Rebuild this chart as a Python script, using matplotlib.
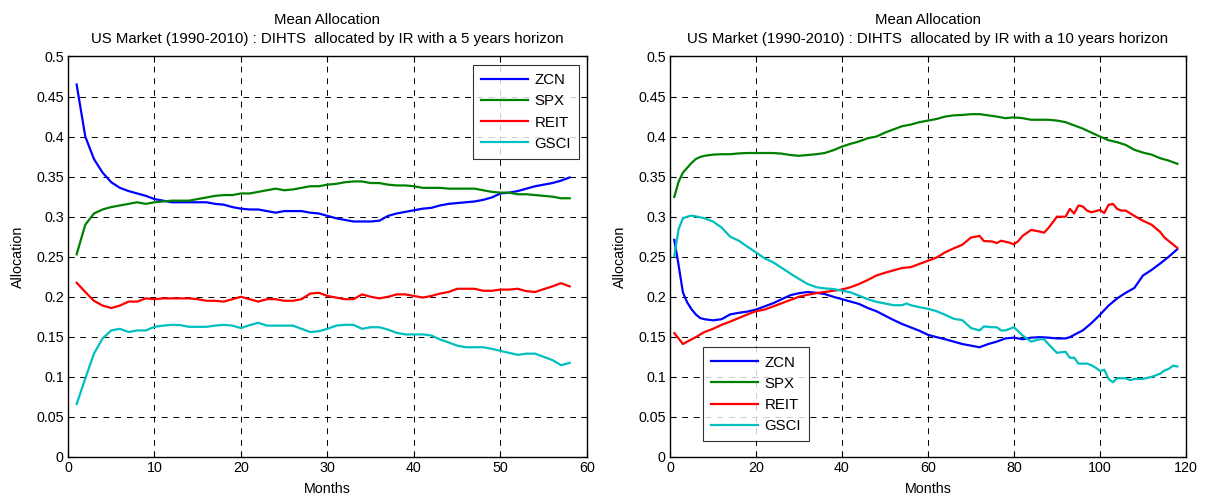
import numpy as np
import matplotlib
matplotlib.use("Agg")
from matplotlib import pyplot as plt

plt.rcParams['font.family'] = ['Liberation Sans', 'DejaVu Sans']
plt.rcParams['font.size'] = 10

# ---- 5 years horizon (left) ----
months5 = list(range(1, 59))
zcn5 = [0.465, 0.400, 0.372, 0.355, 0.343, 0.336, 0.332, 0.329, 0.326, 0.322,
        0.320, 0.318, 0.318, 0.318, 0.318, 0.318, 0.316, 0.315, 0.312, 0.310,
        0.309, 0.309, 0.307, 0.305, 0.307, 0.307, 0.307, 0.305, 0.304, 0.301,
        0.298, 0.296, 0.294, 0.294, 0.294, 0.295, 0.301, 0.304, 0.306, 0.308,
        0.310, 0.311, 0.314, 0.316, 0.317, 0.318, 0.319, 0.321, 0.324, 0.329,
        0.330, 0.332, 0.335, 0.338, 0.340, 0.342, 0.345, 0.349]
spx5 = [0.253, 0.290, 0.304, 0.309, 0.312, 0.314, 0.316, 0.318, 0.316, 0.318,
        0.319, 0.320, 0.320, 0.320, 0.322, 0.324, 0.326, 0.327, 0.327, 0.329,
        0.329, 0.331, 0.333, 0.335, 0.333, 0.334, 0.336, 0.338, 0.338, 0.340,
        0.341, 0.343, 0.344, 0.344, 0.342, 0.342, 0.340, 0.339, 0.339, 0.338,
        0.336, 0.336, 0.336, 0.335, 0.335, 0.335, 0.335, 0.333, 0.331, 0.330,
        0.330, 0.328, 0.328, 0.327, 0.326, 0.325, 0.323, 0.323]
reit5 = [0.2175, 0.206, 0.195, 0.189, 0.186, 0.189, 0.194, 0.194, 0.198, 0.197,
         0.198, 0.198, 0.198, 0.198, 0.197, 0.195, 0.195, 0.194, 0.197, 0.200,
         0.197, 0.194, 0.197, 0.197, 0.195, 0.195, 0.197, 0.204, 0.205, 0.201,
         0.199, 0.197, 0.197, 0.203, 0.200, 0.198, 0.200, 0.203, 0.203, 0.201,
         0.199, 0.201, 0.204, 0.206, 0.210, 0.210, 0.210, 0.2075, 0.2075, 0.209,
         0.209, 0.210, 0.207, 0.206, 0.2095, 0.213, 0.217, 0.213]
gsci5 = [0.066, 0.098, 0.129, 0.148, 0.158, 0.160, 0.156, 0.158, 0.158, 0.1625,
         0.164, 0.165, 0.1646, 0.1625, 0.1625, 0.1625, 0.164, 0.165, 0.164, 0.161,
         0.1646, 0.1675, 0.164, 0.164, 0.164, 0.164, 0.160, 0.156, 0.157, 0.160,
         0.164, 0.165, 0.165, 0.160, 0.162, 0.162, 0.159, 0.155, 0.153, 0.153,
         0.153, 0.1517, 0.1467, 0.143, 0.139, 0.137, 0.137, 0.137, 0.135, 0.1325,
         0.130, 0.1275, 0.129, 0.129, 0.125, 0.121, 0.1146, 0.1175]

# ---- 10 years horizon (right) ----
zcn10_x = [1, 2, 3, 4, 5, 6, 7, 8, 10, 12, 14, 16, 18, 20, 22, 24, 26, 28, 30, 32,
           34, 36, 38, 40, 42, 44, 46, 48, 50, 52, 54, 56, 58, 60, 62, 64, 66, 68,
           70, 72, 74, 76, 78, 80, 82, 84, 86, 88, 90, 92, 93, 94, 96, 98, 100,
           102, 104, 106, 108, 110, 112, 114, 116, 118]
zcn10 = [0.271, 0.2395, 0.2055, 0.193, 0.1845, 0.178, 0.1735, 0.172, 0.1706, 0.172,
         0.178, 0.180, 0.1815, 0.184, 0.188, 0.192, 0.197, 0.202, 0.2045, 0.206,
         0.205, 0.2034, 0.200, 0.197, 0.194, 0.191, 0.186, 0.182, 0.1765, 0.171,
         0.166, 0.1618, 0.1576, 0.1525, 0.1496, 0.147, 0.144, 0.141, 0.139, 0.137,
         0.141, 0.144, 0.148, 0.149, 0.147, 0.149, 0.1496, 0.149, 0.148, 0.148,
         0.1496, 0.1525, 0.158, 0.167, 0.1775, 0.189, 0.198, 0.205, 0.211, 0.2265,
         0.2335, 0.2415, 0.250, 0.2595]
spx10_x = [1, 2, 3, 4, 5, 6, 7, 8, 10, 12, 14, 16, 18, 20, 22, 24, 26, 28, 30, 32,
           34, 36, 38, 40, 42, 44, 46, 48, 50, 52, 54, 56, 58, 60, 62, 64, 66, 68,
           70, 72, 74, 76, 78, 80, 82, 84, 86, 88, 90, 92, 94, 96, 98, 100, 102,
           104, 106, 108, 110, 112, 114, 116, 118]
spx10 = [0.3247, 0.3437, 0.355, 0.361, 0.367, 0.372, 0.3745, 0.376, 0.3775, 0.378,
         0.378, 0.379, 0.3795, 0.3795, 0.3795, 0.3795, 0.3787, 0.377, 0.376, 0.377,
         0.378, 0.3795, 0.383, 0.3875, 0.391, 0.394, 0.398, 0.400, 0.405, 0.409,
         0.413, 0.415, 0.418, 0.420, 0.422, 0.425, 0.4265, 0.427, 0.428, 0.428,
         0.4265, 0.425, 0.423, 0.424, 0.423, 0.421, 0.421, 0.421, 0.420, 0.418,
         0.414, 0.410, 0.405, 0.400, 0.3955, 0.393, 0.3895, 0.3835, 0.380, 0.3775,
         0.373, 0.370, 0.366]
reit10_x = [1, 2, 3, 4, 6, 8, 10, 12, 14, 16, 18, 20, 22, 24, 26, 28, 30, 32, 34,
            36, 38, 40, 42, 44, 46, 48, 50, 52, 54, 56, 58, 60, 62, 64, 66, 68, 70,
            72, 73, 75, 76, 77, 79, 80, 81, 82, 84, 86, 87, 88, 90, 92, 93, 94, 95,
            96, 97, 98, 100, 101, 102, 103, 104, 105, 106, 108, 110, 112, 114, 115,
            116, 117, 118]
reit10 = [0.1546, 0.148, 0.141, 0.144, 0.1496, 0.156, 0.160, 0.165, 0.169, 0.1735,
          0.178, 0.182, 0.184, 0.188, 0.192, 0.196, 0.200, 0.2025, 0.2045, 0.206,
          0.2075, 0.209, 0.212, 0.216, 0.221, 0.2265, 0.230, 0.233, 0.236, 0.237,
          0.241, 0.245, 0.249, 0.2555, 0.2605, 0.265, 0.274, 0.276, 0.2696, 0.269,
          0.267, 0.270, 0.2675, 0.2654, 0.2696, 0.276, 0.2835, 0.2814, 0.280, 0.2857,
          0.300, 0.300, 0.3097, 0.304, 0.314, 0.3127, 0.3076, 0.3055, 0.3084, 0.3046,
          0.3148, 0.316, 0.3097, 0.3076, 0.3076, 0.301, 0.295, 0.290, 0.281, 0.274,
          0.2696, 0.2654, 0.261]
gsci10_x = [1, 2, 3, 4, 5, 6, 8, 10, 12, 14, 16, 18, 20, 22, 24, 26, 28, 30, 32, 34,
            36, 38, 40, 42, 44, 46, 48, 50, 52, 54, 55, 56, 58, 60, 62, 64, 66, 68,
            70, 72, 73, 75, 76, 77, 78, 80, 82, 84, 86, 87, 88, 90, 92, 93, 94, 95,
            97, 98, 99, 100, 101, 102, 103, 104, 106, 107, 108, 110, 112, 114, 115,
            116, 117, 118]
gsci10 = [0.2506, 0.2844, 0.298, 0.300, 0.3013, 0.3004, 0.298, 0.294, 0.2865, 0.275,
          0.270, 0.2625, 0.2555, 0.248, 0.243, 0.236, 0.229, 0.2223, 0.216, 0.212,
          0.2105, 0.2097, 0.2076, 0.2055, 0.2013, 0.197, 0.1937, 0.1916, 0.1895, 0.1895,
          0.1916, 0.1895, 0.187, 0.185, 0.182, 0.1775, 0.1725, 0.1708, 0.161, 0.158,
          0.163, 0.162, 0.162, 0.158, 0.158, 0.162, 0.1517, 0.144, 0.147, 0.147,
          0.141, 0.130, 0.1314, 0.1238, 0.124, 0.1166, 0.1166, 0.1145, 0.1115, 0.1073,
          0.109, 0.0975, 0.0933, 0.0983, 0.0983, 0.0958, 0.0975, 0.0975, 0.100, 0.104,
          0.108, 0.110, 0.114, 0.113]

names = ['ZCN', 'SPX', 'REIT', 'GSCI']
colors = ['#0000ff', '#008000', '#ff0000', '#00bfbf']


def style_axes(ax, xmax, xstep):
    ax.set_xlim(0, xmax)
    ax.set_ylim(0, 0.5)
    ax.set_xticks(np.arange(0, xmax + 1, xstep))
    yt = np.round(np.arange(0, 0.501, 0.05), 2)
    ax.set_yticks(yt)
    ax.set_yticklabels(['%g' % v for v in yt])
    ax.tick_params(direction='in', top=True, right=True, length=4, labelsize=10.3, pad=3)
    ax.grid(True, color='black', linestyle=(0, (6, 6)), linewidth=0.7)
    ax.set_xlabel('Months', fontsize=10.3, labelpad=5)
    ax.set_ylabel('Allocation', fontsize=10.3, labelpad=8)
    for s in ax.spines.values():
        s.set_linewidth(1.0)


def titled(ax, years):
    ax.set_title('Mean Allocation\nUS Market (1990-2010) : DIHTS  allocated by IR '
                 'with a %d years horizon' % years,
                 fontsize=10.8, pad=10, linespacing=1.4)


def add_legend(ax, loc, anchor):
    leg = ax.legend(loc=loc, bbox_to_anchor=anchor, borderaxespad=0,
                    fancybox=False, edgecolor='black', fontsize=10.8,
                    handlelength=3.1, borderpad=0.55, labelspacing=0.48,
                    handletextpad=0.45)
    leg.get_frame().set_linewidth(0.8)
    return leg


fig = plt.figure(figsize=(12.12, 4.99), dpi=100)
ax1 = fig.add_axes([0.0561, 0.0842, 0.4282, 0.8026])
ax2 = fig.add_axes([0.5528, 0.0842, 0.4257, 0.8026])

for y, c, n in zip([zcn5, spx5, reit5, gsci5], colors, names):
    ax1.plot(months5, y, color=c, lw=1.6, label=n)
style_axes(ax1, 60, 10)
titled(ax1, 5)
add_legend(ax1, 'upper right', (0.985, 0.979))

xs10 = [zcn10_x, spx10_x, reit10_x, gsci10_x]
for x, y, c, n in zip(xs10, [zcn10, spx10, reit10, gsci10], colors, names):
    ax2.plot(x, y, color=c, lw=1.6, label=n)
style_axes(ax2, 120, 20)
titled(ax2, 10)
add_legend(ax2, 'lower left', (0.064, 0.039))

fig.savefig('out.png', dpi=100)
